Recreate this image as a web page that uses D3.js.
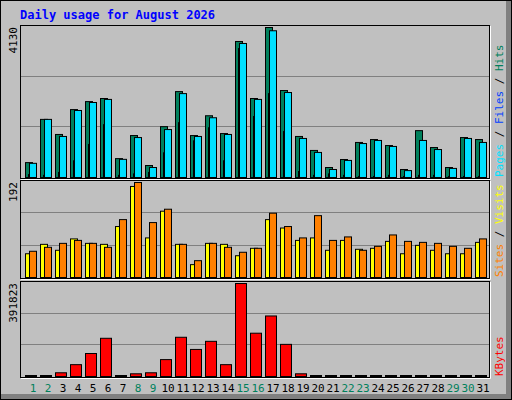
<!DOCTYPE html>
<html><head><meta charset="utf-8">
<script src="https://cdn.jsdelivr.net/npm/d3@7"></script>
<style>body{margin:0;background:#fff}</style>
</head><body>
<script>
var days = d3.range(1, 32);
var weekend = [1,2,8,9,15,16,22,23,29,30];
var hits  = [410,1600,1185,1870,2090,2175,520,1155,330,1400,2365,1155,1700,1210,3745,2175,4130,2395,1130,745,275,495,965,1045,880,220,1290,825,275,1100,1045];
var files = [390,1600,1130,1845,2065,2150,500,1100,275,1320,2310,1130,1645,1185,3690,2150,4040,2340,1075,690,220,470,935,1020,855,190,1020,770,250,1075,965];
var pages = [80,60,140,460,910,1455,60,100,140,680,1510,1010,1370,460,3550,1680,2310,1265,165,60,100,60,30,30,60,30,60,60,30,30,30];
var visitsY = [48,67,55,78,69,67,103,184,80,134,67,26,69,67,44,59,117,100,75,80,55,75,57,59,73,48,65,55,48,48,71];
var sitesO  = [53,61,69,75,69,61,117,192,111,138,67,34,69,61,51,59,130,103,80,125,75,82,55,63,86,73,71,69,63,59,78];
var kbytes = [0,0,15700,49900,96900,161000,0,11400,15700,71200,165300,114000,148200,49900,391823,182400,255000,135400,11400,0,0,0,0,0,0,0,0,0,0,0,0];
var maxLabels = ["4130", "192", "391823"];

var svg = d3.select("body").append("svg").attr("width", 512).attr("height", 400)
  .style("font-family", "'DejaVu Sans Mono', monospace");

// frame
svg.append("rect").attr("width", 512).attr("height", 400).attr("fill", "#808080");
svg.append("rect").attr("width", 506).attr("height", 394).attr("fill", "#c0c0c0");
svg.append("path").attr("d", "M0.5,399 V0.5 H511").attr("stroke", "#fff").attr("fill", "none");
svg.append("rect").attr("x", 0.5).attr("y", 0.5).attr("width", 511).attr("height", 399).attr("fill", "none").attr("stroke", "#000");

svg.append("text").attr("x", 20).attr("y", 19).attr("fill", "#0000ff")
  .attr("font-size", 12).attr("font-weight", "bold").text("Daily usage for August 2026");

var x = d3.scaleLinear().domain([1, 32]).range([25, 490]);

var panels = [
  {top: 25, bottom: 177, max: 4130},
  {top: 180, bottom: 277, max: 192},
  {top: 281, bottom: 376, max: 391823}
];

panels.forEach(function(p, i) {
  var h = p.bottom - p.top;
  svg.append("rect").attr("x", 20.5).attr("y", p.top + 0.5).attr("width", 469).attr("height", h + 1)
    .attr("fill", "#c0c0c0").attr("stroke", "#000");
  svg.append("path").attr("d", "M21," + (p.bottom + 2.5) + " H490.5 V" + (p.top + 1))
    .attr("stroke", "#fff").attr("fill", "none");
  [1, 2].forEach(function(k) {
    var gy = Math.round(p.bottom - h * k / 3) + 0.5;
    svg.append("line").attr("x1", 21).attr("x2", 489).attr("y1", gy).attr("y2", gy).attr("stroke", "#808080");
  });
  p.y = d3.scaleLinear().domain([0, p.max]).range([p.bottom, p.top + 2]);
  svg.append("text").attr("transform", "translate(17," + (p.top + 2) + ") rotate(-90)")
    .attr("text-anchor", "end").attr("font-size", 11).attr("fill", "#000").text(maxLabels[i]);
});

function bars(data, p, dx, w, fill) {
  svg.append("g").selectAll("rect").data(data).join("rect")
    .attr("x", function(d, i) { return x(i + 1) + dx + 0.5; })
    .attr("y", function(d) { return Math.min(p.y(d), p.bottom - 1) + 0.5; })
    .attr("width", w)
    .attr("height", function(d) { return Math.max(p.bottom - p.y(d), 1); })
    .attr("fill", fill).attr("stroke", "#000");
}

bars(hits, panels[0], 0, 7, "#00805c");
bars(pages, panels[0], 3, 1, "#0040ff");
bars(files, panels[0], 4, 7, "#00e0ff");
bars(visitsY, panels[1], 0, 7, "#ffff00");
bars(sitesO, panels[1], 4, 7, "#ff8000");
bars(kbytes, panels[2], 0, 11, "#ff0000");

// day labels
svg.append("g").selectAll("text").data(days).join("text")
  .attr("x", function(d) { return x(d) + 8; }).attr("y", 392)
  .attr("text-anchor", "middle").attr("font-size", 11)
  .attr("fill", function(d) { return weekend.indexOf(d) >= 0 ? "#00805c" : "#000"; })
  .text(function(d) { return d; });

// right legends
function legend(y, parts) {
  var t = svg.append("text").attr("transform", "translate(503," + y + ") rotate(-90)")
    .attr("font-size", 11).attr("text-anchor", "start");
  parts.forEach(function(p) { t.append("tspan").attr("fill", p[1]).text(p[0]); });
}
legend(177, [["Pages", "#00e0ff"], [" / ", "#000"], ["Files", "#0040ff"], [" / ", "#000"], ["Hits", "#00805c"]]);
legend(277, [["Sites", "#ff8000"], [" / ", "#000"], ["Visits", "#ffff00"]]);
legend(376, [["KBytes", "#ff0000"]]);
</script>
</body></html>
